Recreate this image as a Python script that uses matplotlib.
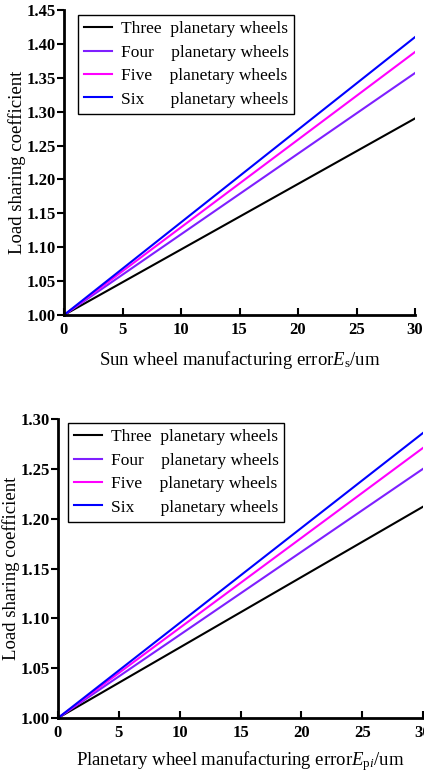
import matplotlib.pyplot as plt

plt.rcParams['font.family'] = ['Liberation Serif', 'DejaVu Serif']
plt.rcParams['mathtext.fontset'] = 'custom'
plt.rcParams['mathtext.rm'] = 'Liberation Serif'
plt.rcParams['mathtext.it'] = 'Liberation Serif:italic'

# endpoints of each straight line (error in um -> load sharing coefficient)
x_err = [0, 30]
sun_three = [1.0, 1.290]
sun_four = [1.0, 1.357]
sun_five = [1.0, 1.388]
sun_six = [1.0, 1.410]
pla_three = [1.0, 1.212]
pla_four = [1.0, 1.250]
pla_five = [1.0, 1.271]
pla_six = [1.0, 1.286]

labels = ['Three  planetary wheels', 'Four    planetary wheels',
          'Five    planetary wheels', 'Six      planetary wheels']
colors = ['#000000', '#7f1fff', '#ff00ff', '#0000ff']

W, H = 424, 775
fig = plt.figure(figsize=(W / 100, H / 100), dpi=100)

# axes boxes in pixel coords: left, top, right, bottom
ax1 = fig.add_axes([64 / W, 1 - 315 / H, (415 - 64) / W, (315 - 10) / H])
ax2 = fig.add_axes([58 / W, 1 - 718 / H, (423 - 58) / W, (718 - 419) / H])


def style(ax, ymax, xlabel, ylab_x, xlab_y):
    ax.set_xlim(0, 30)
    ax.set_ylim(1.0, ymax)
    ax.set_xticks(range(0, 31, 5))
    for s in ['top', 'right']:
        ax.spines[s].set_visible(False)
    for s in ['left', 'bottom']:
        ax.spines[s].set_linewidth(2)
    ax.tick_params(axis='x', direction='in', length=5, width=1.5, labelsize=12, pad=5)
    ax.tick_params(axis='y', direction='out', length=5, width=1.5, labelsize=12, pad=1)
    for lab in ax.get_xticklabels() + ax.get_yticklabels():
        lab.set_fontweight('bold')
    ax.set_ylabel('Load sharing coefficient', fontsize=13.5)
    ax.set_xlabel(xlabel, fontsize=13.5)
    # place label centres at pixel positions
    ax.yaxis.set_label_coords(ylab_x / W, 0, transform=fig.transFigure)
    ax.yaxis.label.set_va('center')
    y0 = ax.get_position().y0 + ax.get_position().height / 2
    ax.yaxis.set_label_coords(ylab_x / W, y0, transform=fig.transFigure)
    x0 = ax.get_position().x0 + ax.get_position().width / 2
    ax.xaxis.set_label_coords(x0, 1 - xlab_y / H, transform=fig.transFigure)
    ax.xaxis.label.set_va('center')


sun = [sun_three, sun_four, sun_five, sun_six]
for vals, c, lab in zip(sun, colors, labels):
    ax1.plot(x_err, vals, color=c, lw=1.5, label=lab)
ax1.set_yticks([1.00, 1.05, 1.10, 1.15, 1.20, 1.25, 1.30, 1.35, 1.40, 1.45])
ax1.set_yticklabels(['%.2f' % v for v in ax1.get_yticks()])
style(ax1, 1.45, r'Sun wheel manufacturing error$\mathit{E}_{\mathrm{s}}$/um', 17, 360)

pla = [pla_three, pla_four, pla_five, pla_six]
for vals, c, lab in zip(pla, colors, labels):
    ax2.plot(x_err, vals, color=c, lw=1.5, label=lab)
ax2.set_yticks([1.00, 1.05, 1.10, 1.15, 1.20, 1.25, 1.30])
ax2.set_yticklabels(['%.2f' % v for v in ax2.get_yticks()])
style(ax2, 1.30, r'Planetary wheel manufacturing error$\mathit{E}_{\mathrm{p}\mathit{i}}$/um', 11, 761)

# legend top-left corners in pixels
for ax, (lx, ly) in [(ax1, (78, 15)), (ax2, (68, 423))]:
    leg = ax.legend(loc='upper left', bbox_to_anchor=(lx / W, 1 - ly / H),
                    bbox_transform=fig.transFigure, borderaxespad=0,
                    fontsize=12.5, fancybox=False, edgecolor='black',
                    framealpha=1, handlelength=1.6, handletextpad=0.5,
                    labelspacing=0.42, borderpad=0.35)
    leg.get_frame().set_linewidth(1.0)

fig.savefig('out.png', dpi=100)
